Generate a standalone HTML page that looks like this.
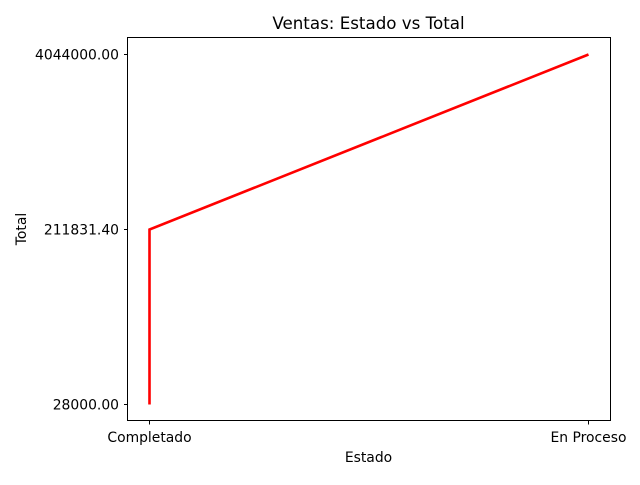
<!DOCTYPE html>
<html><head><meta charset="utf-8"><style>
body{margin:0;background:#fff;}
svg text{font-family:"DejaVu Sans","Liberation Sans",sans-serif;fill:#000;}
</style></head><body>
<svg id="chart" width="640" height="480" xmlns="http://www.w3.org/2000/svg">
<rect width="640" height="480" fill="#fff"/>
<text x="368.5" y="29" font-size="16.7" text-anchor="middle">Ventas: Estado vs Total</text>
<text x="368.5" y="462" font-size="13.9" text-anchor="middle">Estado</text>
<text x="0" y="0" font-size="13.9" text-anchor="middle" transform="translate(26,229) rotate(-90)">Total</text>
<g id="ticks"></g>
<g id="series"></g>
<rect x="127.5" y="37.5" width="483" height="383" fill="none" stroke="#000" stroke-width="1"/>
</svg>
<script>
const categories = ["Completado", "Completado", "En Proceso"];
const xCategories = ["Completado", "En Proceso"];
const values = ["28000.00", "211831.40", "4044000.00"];
const yCategories = ["28000.00", "211831.40", "4044000.00"];

const NS = "http://www.w3.org/2000/svg";
function xScale(c){ const i = xCategories.indexOf(c); return 149.5 + i * (588.5 - 149.5) / (xCategories.length - 1); }
function yScale(v){ const i = yCategories.indexOf(v); return 404.5 - i * (404.5 - 54.5) / (yCategories.length - 1); }

const ticks = document.getElementById('ticks');
xCategories.forEach(c => {
  const x = xScale(c);
  const l = document.createElementNS(NS, 'line');
  l.setAttribute('x1', x); l.setAttribute('x2', x); l.setAttribute('y1', 421); l.setAttribute('y2', 424.5);
  l.setAttribute('stroke', '#000');
  
  
  ticks.appendChild(l);
  const t = document.createElementNS(NS, 'text');
  t.setAttribute('x', x); t.setAttribute('y', 442); t.setAttribute('font-size', '13.9'); t.setAttribute('text-anchor', 'middle');
  t.textContent = c;
  
  
  ticks.appendChild(t);
});
yCategories.forEach(v => {
  const y = yScale(v);
  const l = document.createElementNS(NS, 'line');
  l.setAttribute('x1', 124); l.setAttribute('x2', 127.5); l.setAttribute('y1', y); l.setAttribute('y2', y);
  l.setAttribute('stroke', '#000');
  
  
  ticks.appendChild(l);
  const t = document.createElementNS(NS, 'text');
  t.setAttribute('x', 119); t.setAttribute('y', y + 5); t.setAttribute('font-size', '13.9'); t.setAttribute('text-anchor', 'end');
  t.textContent = v;
  
  
  ticks.appendChild(t);
});
const pts = categories.map((c, i) => xScale(c) + ',' + yScale(values[i])).join(' ');
const line = document.createElementNS(NS, 'polyline');
line.setAttribute('points', pts);
line.setAttribute('fill', 'none'); line.setAttribute('stroke', '#ff0000'); line.setAttribute('stroke-width', '2.6');


document.getElementById('series').appendChild(line);
</script>
</body></html>
